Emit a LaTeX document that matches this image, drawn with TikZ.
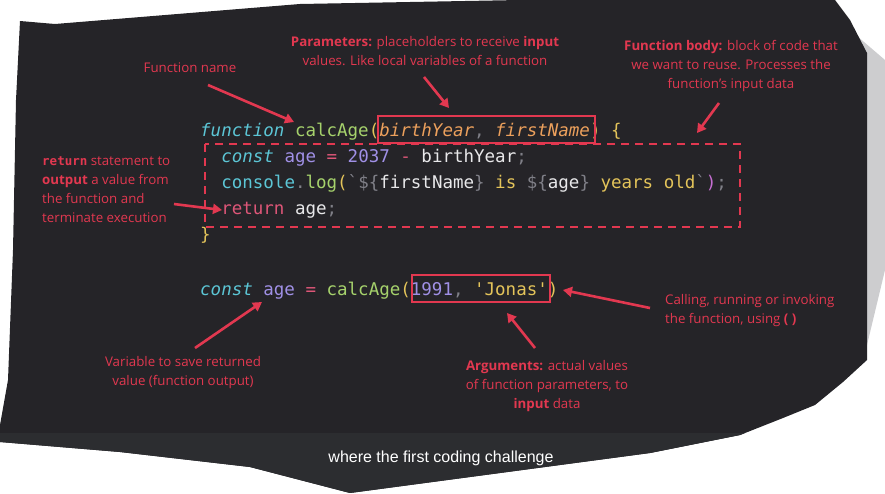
\documentclass[tikz,border=0pt]{standalone}
\usepackage{fontspec}
\setmainfont{Open Sans}
\setmonofont{DejaVu Sans Mono}
\newfontfamily\capfont{Liberation Sans}
\usepackage{xcolor}
\usetikzlibrary{arrows.meta}

\definecolor{bgdark}{RGB}{37,36,40}
\definecolor{capband}{RGB}{44,45,48}
\definecolor{pagegray}{RGB}{205,205,207}
\definecolor{annored}{RGB}{226,56,80}
\definecolor{ccyan}{RGB}{92,198,214}
\definecolor{cgreen}{RGB}{166,210,108}
\definecolor{cyellow}{RGB}{228,196,90}
\definecolor{corange}{RGB}{236,160,92}
\definecolor{cpurple}{RGB}{160,144,230}
\definecolor{cpink}{RGB}{222,86,120}
\definecolor{cwhite}{RGB}{232,232,234}
\definecolor{cgray}{RGB}{128,128,136}
\definecolor{cmagenta}{RGB}{198,110,210}

\newcommand\annofont{\fontsize{13.3}{19}\selectfont}
\newcommand\codefont{\ttfamily\fontsize{17.5}{26}\selectfont}
\newcommand\bq{\symbol{96}}
\newcommand\sq{\symbol{39}}
\newcommand\ckw[1]{\textcolor{ccyan}{\itshape #1}}
\newcommand\cfn[1]{\textcolor{cgreen}{#1}}
\newcommand\cyl[1]{\textcolor{cyellow}{#1}}
\newcommand\cprm[1]{\textcolor{corange}{\itshape #1}}
\newcommand\cnum[1]{\textcolor{cpurple}{#1}}
\newcommand\cop[1]{\textcolor{cpink}{#1}}
\newcommand\cwt[1]{\textcolor{cwhite}{#1}}
\newcommand\cgy[1]{\textcolor{cgray}{#1}}

\tikzset{
  annot/.style={text=annored, font=\annofont, align=center, inner sep=0pt},
  codeline/.style={anchor=base west, inner sep=0pt, font=\codefont},
  callout/.style={draw=annored, line width=2.6pt, -{Triangle[length=9pt,width=10pt]}},
  markbox/.style={draw=annored, line width=2.6pt},
  bodybox/.style={draw=annored, line width=2.8pt, dash pattern=on 8pt off 6pt},
}

\begin{document}
\begin{tikzpicture}[x=1pt,y=-1pt]
\def\cx{200}\def\cw{10.55}
\useasboundingbox (0,0) rectangle (885,493);
% Page edge behind the screenshot
\fill[pagegray] (850,30) -- (885,60) -- (885,270) -- (867,345) -- cycle;
% Torn dark screenshot with caption band
\begin{scope}
\clip (20,21) -- (55,24) -- (300,4) -- (520,0) -- (835,0) -- (850,20)
  -- (867,53) -- (867,360) -- (843,382) -- (815,405) -- (783,418)
  -- (740,435) -- (700,443) -- (650,453) -- (350,493) -- (250,467)
  -- (120,452) -- (0,442) -- (0,425) -- (8,380) -- (13,250) -- (16,100) -- cycle;
\fill[bgdark] (0,0) rectangle (885,493);
\fill[capband] (0,433) rectangle (885,493);
\end{scope}
% Code
\node[codeline] (code1) at (\cx,136)
  {\ckw{function} \cfn{calcAge}\cyl{(}\cprm{birthYear}\cgy{,} \cprm{firstName}\cyl{) \{}};
\node[codeline] (code2) at (\cx+2*\cw,162)
  {\ckw{const} \cnum{age} \cop{=} \cnum{2037} \cop{-} \cwt{birthYear}\cgy{;}};
\node[codeline] (code3) at (\cx+2*\cw,188)
  {\textcolor{ccyan}{console}\cgy{.}\cfn{log}\cyl{(}\cgy{\bq\$\{}\cwt{firstName}\cgy{\}}\cyl{\ is }\cgy{\$\{}\cwt{age}\cgy{\}}\cyl{\ years old}\cgy{\bq}\textcolor{cmagenta}{)}\cgy{;}};
\node[codeline] (code4) at (\cx+2*\cw,214) {\cop{return} \cwt{age}\cgy{;}};
\node[codeline] (code5) at (\cx,240) {\cyl{\}}};
\node[codeline] (code7) at (\cx,295)
  {\ckw{const} \cnum{age} \cop{=} \cfn{calcAge}\cyl{(}\cnum{1991}\cgy{,} \cyl{\sq Jonas\sq)}};
% Marked boxes
\draw[markbox] (378,116) rectangle (595,143);
\draw[bodybox] (205,144) rectangle (740,227);
\draw[markbox] (412,275) rectangle (550,302);
% Annotations
\node[annot] (fname) at (190,68) {Function name};
\node[annot] (params) at (425,51)
  {\textbf{Parameters:} placeholders to receive \textbf{input}\\values. Like local variables of a function};
\node[annot] (body) at (731,66)
  {\textbf{Function body:} block of code that\\we want to reuse. Processes the\\function’s input data};
\node[annot, align=left, anchor=west] (ret) at (42,190)
  {{\ttfamily\bfseries\fontsize{12.5}{19}\selectfont return} statement to\\\textbf{output} a value from\\the function and\\terminate execution};
\node[annot] (var) at (183,373) {Variable to save returned\\value (function output)};
\node[annot] (args) at (547,386)
  {\textbf{Arguments:} actual values\\of function parameters, to\\\textbf{input} data};
\node[annot, align=left, anchor=west] (call) at (665,311)
  {Calling, running or invoking\\the function, using \textbf{( )}};
% Arrows
\coordinate (fnTail) at (208,85);   \coordinate (fnTip) at (294,122);
\coordinate (prmTail) at (424,77);  \coordinate (prmTip) at (449,108);
\coordinate (bodyTail) at (719,103); \coordinate (bodyTip) at (697,133);
\coordinate (retTail) at (174,204); \coordinate (retTip) at (222,210);
\coordinate (varTail) at (195,348); \coordinate (varTip) at (262,302);
\coordinate (argTail) at (535,348); \coordinate (argTip) at (507,313);
\coordinate (callTail) at (650,308); \coordinate (callTip) at (563,290);
\draw[callout] (fnTail) -- (fnTip);
\draw[callout] (prmTail) -- (prmTip);
\draw[callout] (bodyTail) -- (bodyTip);
\draw[callout] (retTail) -- (retTip);
\draw[callout] (varTail) -- (varTip);
\draw[callout] (argTail) -- (argTip);
\draw[callout] (callTail) -- (callTip);
% Caption
\node[font=\capfont\fontsize{16}{16}\selectfont, text=white, inner sep=0pt] (caption)
  at (441,458) {where the first coding challenge};
\end{tikzpicture}
\end{document}
